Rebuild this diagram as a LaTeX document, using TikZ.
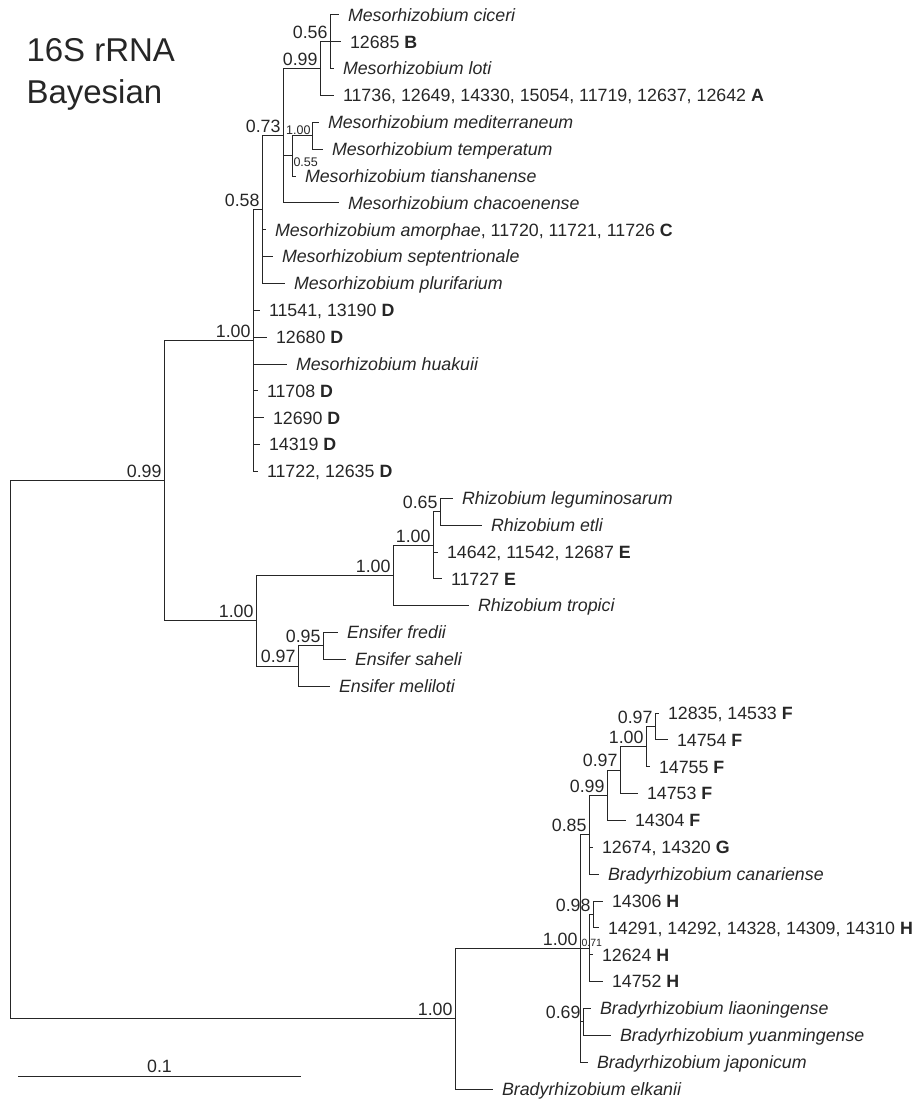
\documentclass[tikz,border=0pt]{standalone}
\usepackage{fontspec}
\setmainfont{Liberation Sans}

\begin{document}
\begin{tikzpicture}[x=1pt,y=-26.85pt,line width=1pt,color=black!85,
    leaf/.style={anchor=west,inner sep=0pt,outer xsep=9pt,text height=16.5pt,text depth=4pt,font=\fontsize{17.8}{21}\selectfont},
    pp/.style={anchor=south east,inner xsep=2pt,inner ysep=2.5pt,font=\fontsize{17.8}{21}\selectfont},
    pps/.style={inner sep=1pt,font=\fontsize{12.5}{14}\selectfont},
    ttl/.style={anchor=base west,inner sep=0pt,font=\fontsize{33}{38}\selectfont}]
  \useasboundingbox (0,-0.5587) rectangle (917,40.372);
  % title
  \node[ttl] (ttla) at (26,1.75) {16S rRNA};
  \node[ttl] (ttlb) at (26,3.28) {Bayesian};
  % leaves, Mesorhizobium
  \node[leaf] (ciceri) at (339,0) {\textit{Mesorhizobium ciceri}};
  \node[leaf] (b12685) at (341,1) {12685 \textbf{B}};
  \node[leaf] (loti) at (334,2) {\textit{Mesorhizobium loti}};
  \node[leaf] (a11736) at (334,3) {11736, 12649, 14330, 15054, 11719, 12637, 12642 \textbf{A}};
  \node[leaf] (mediterraneum) at (319,4) {\textit{Mesorhizobium mediterraneum}};
  \node[leaf] (temperatum) at (323,5) {\textit{Mesorhizobium temperatum}};
  \node[leaf] (tianshanense) at (296,6) {\textit{Mesorhizobium tianshanense}};
  \node[leaf] (chacoenense) at (339,7) {\textit{Mesorhizobium chacoenense}};
  \node[leaf] (amorphae) at (266,8) {\textit{Mesorhizobium amorphae}, 11720, 11721, 11726 \textbf{C}};
  \node[leaf] (septentrionale) at (273,9) {\textit{Mesorhizobium septentrionale}};
  \node[leaf] (plurifarium) at (285,10) {\textit{Mesorhizobium plurifarium}};
  \node[leaf] (d11541) at (260,11) {11541, 13190 \textbf{D}};
  \node[leaf] (d12680) at (267,12) {12680 \textbf{D}};
  \node[leaf] (huakuii) at (287,13) {\textit{Mesorhizobium huakuii}};
  \node[leaf] (d11708) at (258,14) {11708 \textbf{D}};
  \node[leaf] (d12690) at (264,15) {12690 \textbf{D}};
  \node[leaf] (d14319) at (260,16) {14319 \textbf{D}};
  \node[leaf] (d11722) at (258,17) {11722, 12635 \textbf{D}};
  % leaves, Rhizobium and Ensifer
  \node[leaf] (leguminosarum) at (453,18) {\textit{Rhizobium leguminosarum}};
  \node[leaf] (etli) at (482,19) {\textit{Rhizobium etli}};
  \node[leaf] (e14642) at (438,20) {14642, 11542, 12687 \textbf{E}};
  \node[leaf] (e11727) at (442,21) {11727 \textbf{E}};
  \node[leaf] (tropici) at (469,22) {\textit{Rhizobium tropici}};
  \node[leaf] (fredii) at (338,23) {\textit{Ensifer fredii}};
  \node[leaf] (saheli) at (346,24) {\textit{Ensifer saheli}};
  \node[leaf] (meliloti) at (330,25) {\textit{Ensifer meliloti}};
  % leaves, Bradyrhizobium
  \node[leaf] (f12835) at (659,26) {12835, 14533 \textbf{F}};
  \node[leaf] (f14754) at (668,27) {14754 \textbf{F}};
  \node[leaf] (f14755) at (650,28) {14755 \textbf{F}};
  \node[leaf] (f14753) at (638,29) {14753 \textbf{F}};
  \node[leaf] (f14304) at (626,30) {14304 \textbf{F}};
  \node[leaf] (g12674) at (593,31) {12674, 14320 \textbf{G}};
  \node[leaf] (canariense) at (599,32) {\textit{Bradyrhizobium canariense}};
  \node[leaf] (h14306) at (603,33) {14306 \textbf{H}};
  \node[leaf] (h14291) at (599,34) {14291, 14292, 14328, 14309, 14310 \textbf{H}};
  \node[leaf] (h12624) at (593,35) {12624 \textbf{H}};
  \node[leaf] (h14752) at (603,36) {14752 \textbf{H}};
  \node[leaf] (liaoningense) at (591,37) {\textit{Bradyrhizobium liaoningense}};
  \node[leaf] (yuanmingense) at (611,38) {\textit{Bradyrhizobium yuanmingense}};
  \node[leaf] (japonicum) at (588,39) {\textit{Bradyrhizobium japonicum}};
  \node[leaf] (elkanii) at (493,40) {\textit{Bradyrhizobium elkanii}};
  % inner nodes
  \coordinate (n056) at (330,1);
  \coordinate (n099a) at (320,2);
  \coordinate (n100m) at (312,4.5);
  \coordinate (n055) at (292,5.25);
  \coordinate (n073) at (283,4.5);
  \coordinate (n058) at (262,7.25);
  \coordinate (nmeso) at (253,12.125);
  \coordinate (n065) at (440,18.5);
  \coordinate (n100e) at (433,19.75);
  \coordinate (nrhizo) at (393,20.875);
  \coordinate (n095) at (323,23.5);
  \coordinate (n097e) at (298,24.25);
  \coordinate (nre) at (256,22.5625);
  \coordinate (n099r) at (164,17.3438);
  \coordinate (n097a) at (655,26.5);
  \coordinate (n100f) at (646,27.25);
  \coordinate (n097b) at (620,28.125);
  \coordinate (n099b) at (607,29.0625);
  \coordinate (n085) at (589,30.5313);
  \coordinate (n098) at (593,33.5);
  \coordinate (n071) at (589,34.75);
  \coordinate (n069) at (583,37.5);
  \coordinate (nbrady) at (580,34.7656);
  \coordinate (nbout) at (455,37.3828);
  \coordinate (root) at (10,27.3633);
  % branches
  \draw (n056) |- (ciceri.west) (n056) |- (b12685.west) (n056) |- (loti.west);
  \draw (n099a) |- (n056) (n099a) |- (a11736.west);
  \draw (n100m) |- (mediterraneum.west) (n100m) |- (temperatum.west);
  \draw (n055) |- (n100m) (n055) |- (tianshanense.west);
  \draw (n073) |- (n099a) (n073) |- (n055) (n073) |- (chacoenense.west);
  \draw (n058) |- (n073) (n058) |- (amorphae.west) (n058) |- (septentrionale.west) (n058) |- (plurifarium.west);
  \draw (nmeso) |- (n058) (nmeso) |- (d11541.west) (nmeso) |- (d12680.west) (nmeso) |- (huakuii.west)
        (nmeso) |- (d11708.west) (nmeso) |- (d12690.west) (nmeso) |- (d14319.west) (nmeso) |- (d11722.west);
  \draw (n065) |- (leguminosarum.west) (n065) |- (etli.west);
  \draw (n100e) |- (n065) (n100e) |- (e14642.west) (n100e) |- (e11727.west);
  \draw (nrhizo) |- (n100e) (nrhizo) |- (tropici.west);
  \draw (n095) |- (fredii.west) (n095) |- (saheli.west);
  \draw (n097e) |- (n095) (n097e) |- (meliloti.west);
  \draw (nre) |- (nrhizo) (nre) |- (n097e);
  \draw (n099r) |- (nmeso) (n099r) |- (nre);
  \draw (n097a) |- (f12835.west) (n097a) |- (f14754.west);
  \draw (n100f) |- (n097a) (n100f) |- (f14755.west);
  \draw (n097b) |- (n100f) (n097b) |- (f14753.west);
  \draw (n099b) |- (n097b) (n099b) |- (f14304.west);
  \draw (n085) |- (n099b) (n085) |- (g12674.west) (n085) |- (canariense.west);
  \draw (n098) |- (h14306.west) (n098) |- (h14291.west);
  \draw (n071) |- (n098) (n071) |- (h12624.west) (n071) |- (h14752.west);
  \draw (n069) |- (liaoningense.west) (n069) |- (yuanmingense.west);
  \draw (nbrady) |- (n085) (nbrady) |- (n071) (nbrady) |- (n069) (nbrady) |- (japonicum.west);
  \draw (nbout) |- (nbrady) (nbout) |- (elkanii.west);
  \draw (root) |- (n099r) (root) |- (nbout);
  % posterior probabilities
  \node[pp] (p056) at (n056) {0.56};
  \node[pp] (p099a) at (n099a) {0.99};
  \node[pps,anchor=south east] (p100m) at (n100m) {1.00};
  \node[pps,anchor=north west] (p055) at (n055) {0.55};
  \node[pp] (p073) at (n073) {0.73};
  \node[pp] (p058) at (n058) {0.58};
  \node[pp] (pmeso) at (nmeso) {1.00};
  \node[pp] (p065) at (n065) {0.65};
  \node[pp] (p100e) at (n100e) {1.00};
  \node[pp] (prhizo) at (nrhizo) {1.00};
  \node[pp] (p095) at (n095) {0.95};
  \node[pp] (p097e) at (n097e) {0.97};
  \node[pp] (pre) at (nre) {1.00};
  \node[pp] (p099r) at (n099r) {0.99};
  \node[pp] (p097a) at (n097a) {0.97};
  \node[pp] (p100f) at (n100f) {1.00};
  \node[pp] (p097b) at (n097b) {0.97};
  \node[pp] (p099b) at (n099b) {0.99};
  \node[pp] (p085) at (n085) {0.85};
  \node[pp] (p098) at (n098) {0.98};
  \node[pps,anchor=south west,font=\fontsize{10.5}{12}\selectfont] (p071) at (nbrady) {0.71};
  \node[pp] (p069) at (n069) {0.69};
  \node[pp] (pbrady) at (nbrady) {1.00};
  \node[pp] (pbout) at (nbout) {1.00};
  % scale bar
  \coordinate (sba) at (18,39.52);
  \coordinate (sbb) at (301,39.52);
  \draw (sba) -- (sbb) node[midway,above,inner sep=3pt,font=\fontsize{17.8}{21}\selectfont] (sbl) {0.1};
\end{tikzpicture}
\end{document}
